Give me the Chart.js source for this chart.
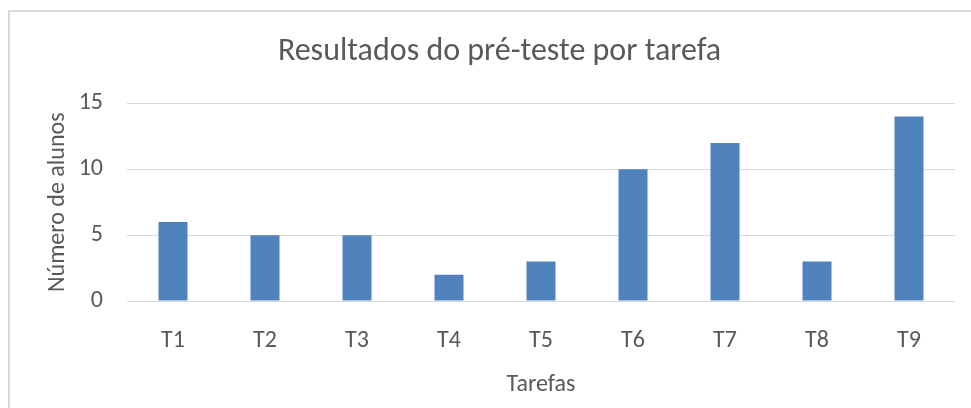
<!DOCTYPE html>
<html lang="pt">
<head>
<meta charset="utf-8">
<script src="https://cdn.jsdelivr.net/npm/chart.js@4.4.0/dist/chart.umd.min.js"></script>
<style>
  html, body { margin: 0; padding: 0; background: #fff; overflow: hidden; }
  #wrap { position: relative; width: 971px; height: 408px; }
  #cadre { position: absolute; left: 8px; top: 10px; width: 1000px; height: 500px;
           border: 2px solid #D9D9D9; box-sizing: border-box; pointer-events: none; }
</style>
</head>
<body>
<div id="wrap">
  <canvas id="chartTarefas" width="971" height="408"></canvas>
  <div id="cadre"></div>
</div>
<script>
const tarefas = ['T1', 'T2', 'T3', 'T4', 'T5', 'T6', 'T7', 'T8', 'T9'];
const alunos  = [6, 5, 5, 2, 3, 10, 12, 3, 14];
const ticksY  = [0, 5, 10, 15];

const corTexto = '#595959';
const corGrade = '#D9D9D9';
const fonte = 'Carlito, Lato, sans-serif';

new Chart(document.getElementById('chartTarefas'), {
  type: 'bar',
  data: {
    labels: tarefas,
    datasets: [{
      label: 'Número de alunos',
      data: alunos,
      backgroundColor: '#4F81BD',
      borderWidth: 0,
      categoryPercentage: 1,
      barPercentage: 0.315
    }]
  },
  options: {
    responsive: false,
    animation: false,
    layout: { padding: { left: 44, right: 16, top: 0, bottom: 9 } },
    plugins: {
      legend: { display: false },
      tooltip: { enabled: false },
      title: {
        display: true,
        text: 'Resultados do pré-teste por tarefa',
        color: corTexto,
        font: { family: fonte, size: 32, weight: 'normal' },
        padding: { top: 33, bottom: 32 }
      }
    },
    scales: {
      x: {
        grid: { display: false },
        border: { display: false },
        ticks: { color: corTexto, font: { family: fonte, size: 24 }, padding: 18 },
        title: { display: true, text: 'Tarefas', color: corTexto, font: { family: fonte, size: 24 }, padding: 0 },
        afterFit: (s) => { s.height = 98; }
      },
      y: {
        min: ticksY[0],
        max: ticksY[ticksY.length - 1],
        afterBuildTicks: (s) => { s.ticks = ticksY.map(v => ({ value: v })); },
        grid: { color: corGrade, lineWidth: 1, drawTicks: false },
        border: { display: false },
        ticks: { color: corTexto, font: { family: fonte, size: 24 }, padding: 24 },
        title: { display: true, text: 'Número de alunos', color: corTexto, font: { family: fonte, size: 24 }, padding: 0 },
        afterFit: (s) => { s.width = 83; }
      }
    }
  }
});
</script>
</body>
</html>
